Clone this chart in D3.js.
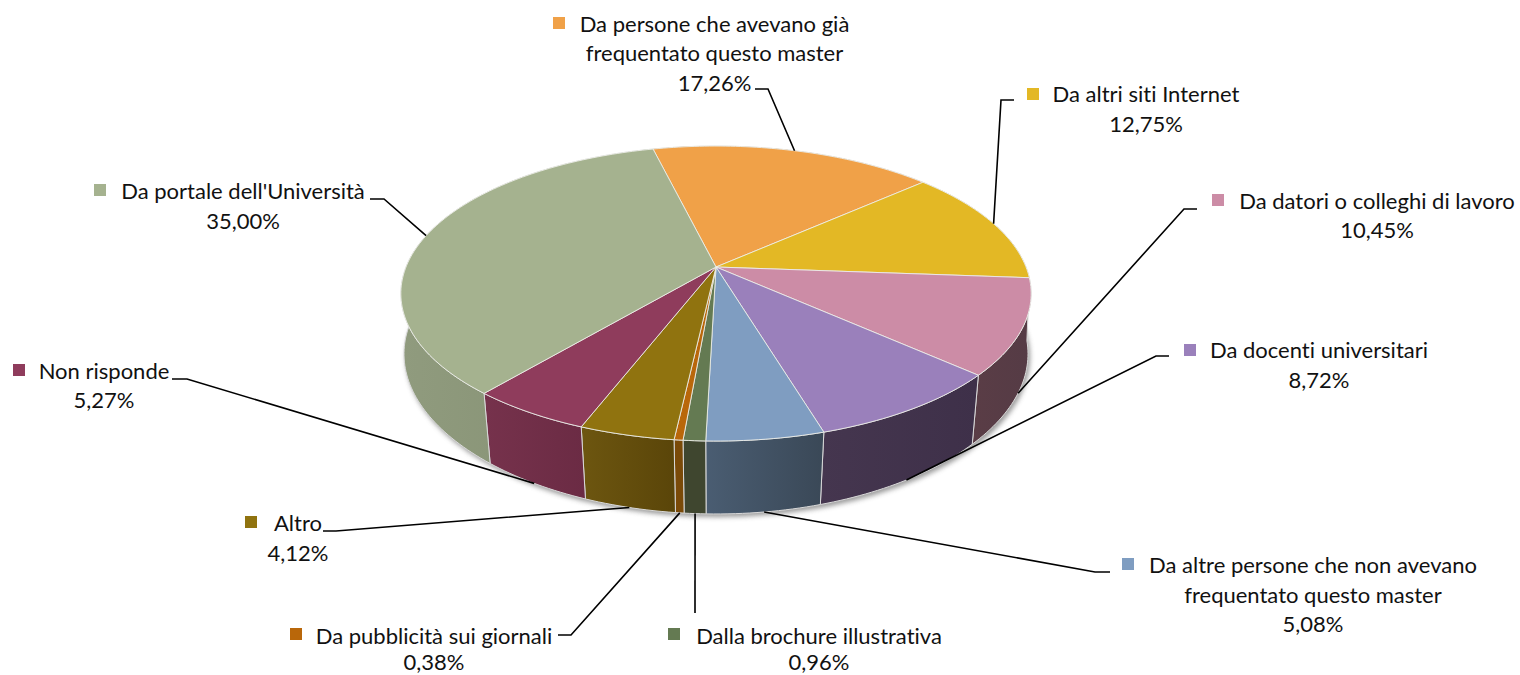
<!DOCTYPE html>
<html><head><meta charset="utf-8">
<script src="https://cdn.jsdelivr.net/npm/d3@7/dist/d3.min.js"></script>
<style>html,body{margin:0;padding:0;background:#fff}svg{display:block}text{font-family:Lato,"Open Sans",sans-serif;font-size:22px;fill:#111;font-variant-ligatures:none}</style>
</head><body><svg id="c" width="1520" height="675"></svg>
<script>
// DATA
const categories = ["Da persone che avevano già frequentato questo master","Da altri siti Internet","Da datori o colleghi di lavoro","Da docenti universitari","Da altre persone che non avevano frequentato questo master","Dalla brochure illustrativa","Da pubblicità sui giornali","Altro","Non risponde","Da portale dell'Università"];
const values = [17.26,12.75,10.45,8.72,5.08,0.96,0.38,4.12,5.27,35.00];
const labelLines = [
 ["Da persone che avevano già","frequentato questo master"],["Da altri siti Internet"],["Da datori o colleghi di lavoro"],["Da docenti universitari"],
 ["Da altre persone che non avevano","frequentato questo master"],["Dalla brochure illustrativa"],["Da pubblicità sui giornali"],["Altro"],["Non risponde"],["Da portale dell'Università"]];
// STYLE
const topColors = ["#f0a148","#e3b825","#cc8ca6","#9a80bb","#7f9dc1","#647a52","#b9670a","#90730f","#8f3c5c","#a5b28f"];
const wallColors = [["#7a5024","#7a5024"],["#725c12","#725c12"],["#553b45","#5a3d46"],["#3e3049","#45364f"],["#3a4857","#4a5d72"],["#3f462f","#3f462f"],["#7a4a08","#7a4a08"],["#5a4509","#6d5610"],["#6b2b44","#76324c"],["#828e70","#909b7e"]];
// LAYOUT: marker left/top, text centre x, baselines, leader elbow and end, anchor on bottom rim or top rim
const layout = [
 {cx:714.5,mx:553,my:17,elbow:[768,89],end:[755,89],bottom:false,baselines:[32,61,91]},
 {cx:1146,mx:1027,my:88,elbow:[1001,100],end:[1014,100],bottom:false,baselines:[102,132]},
 {cx:1377,mx:1212,my:194,elbow:[1184,209],end:[1197,209],bottom:true,baselines:[209,238]},
 {cx:1319,mx:1184,my:344,elbow:[1156,356],end:[1169,356],bottom:true,baselines:[358,388]},
 {cx:1313,mx:1122,my:558,elbow:[1095,572],end:[1110,572],bottom:true,baselines:[573,603,632]},
 {cx:819,mx:668,my:628,elbow:null,end:[695,613],bottom:true,baselines:[644,670]},
 {cx:434,mx:290,my:628,elbow:[571,635],end:[558,635],bottom:true,baselines:[644,670]},
 {cx:298,mx:245,my:516,elbow:[336,531],end:[323,531],bottom:true,baselines:[531,561]},
 {cx:104,mx:13,my:364,elbow:[187,379],end:[172,379],bottom:true,baselines:[379,408]},
 {cx:243,mx:94,my:184,elbow:[384,199],end:[370,199],bottom:false,baselines:[199,229]}
];
const fmt = v => v.toFixed(2).replace(".",",")+"%";

// perspective projection of the unit disc
const CX=716, CY=267, R=310, A=142.7, P=0.18;
const project = a => { const x=Math.sin(a), y=-Math.cos(a), w=1-P*y; return [CX+R*x/w, CY+A*y/w]; };
const projectBottom = a => { const [sx,sy]=project(a), dy=sy-CY; return [CX+(sx-CX)*(0.994-0.00016*dy), CY+dy*1.06+62.5]; };

const start = -13.8*Math.PI/180;
const pie = d3.pie().sort(null).startAngle(start).endAngle(start+2*Math.PI);
const arcs = pie(values);
const samples = (a0,a1) => { const n=Math.max(2,Math.ceil((a1-a0)/0.02)); return d3.range(n+1).map(i=>a0+(a1-a0)*i/n); };
const line = d3.line();

const svg = d3.select("#c"), defs = svg.append("defs");
defs.append("filter").attr("id","sh").attr("x","-10%").attr("y","-10%").attr("width","120%").attr("height","130%")
  .append("feGaussianBlur").attr("stdDeviation",2.5);

// soft shadow below the wall
const full = samples(0,2*Math.PI);
svg.append("path").attr("d",line(full.map(projectBottom))+"Z").attr("fill","#777").attr("opacity",.75)
  .attr("transform","translate(2,3)").attr("filter","url(#sh)");

// walls
arcs.forEach((d,i)=>{
  const s=samples(d.startAngle,d.endAngle);
  const pts=s.map(project).concat(s.slice().reverse().map(projectBottom));
  const xs=pts.map(p=>p[0]);
  const gid="w"+i;
  const g=defs.append("linearGradient").attr("id",gid).attr("gradientUnits","userSpaceOnUse")
    .attr("x1",d3.max(xs)).attr("x2",d3.min(xs)).attr("y1",0).attr("y2",0);
  g.append("stop").attr("offset",0).attr("stop-color",wallColors[i][0]);
  g.append("stop").attr("offset",1).attr("stop-color",wallColors[i][1]);
  svg.append("path").attr("d",line(pts)+"Z").attr("fill",`url(#${gid})`)
    .attr("stroke","#d9d9d9").attr("stroke-width",1).attr("stroke-linejoin","round");
});
// top faces
arcs.forEach((d,i)=>{
  const pts=[[CX,CY]].concat(samples(d.startAngle,d.endAngle).map(project));
  svg.append("path").attr("d",line(pts)+"Z").attr("fill",topColors[i])
    .attr("stroke","#eef0ea").attr("stroke-width",1).attr("stroke-opacity",.85).attr("stroke-linejoin","round");
});
// leaders
arcs.forEach((d,i)=>{
  const L=layout[i], m=(d.startAngle+d.endAngle)/2;
  const anchor=(L.bottom?projectBottom:project)(m);
  const pts=L.elbow?[anchor,L.elbow,L.end]:[anchor,L.end];
  svg.append("path").attr("d",line(pts)).attr("fill","none").attr("stroke","#000").attr("stroke-width",1.6);
});
// labels
categories.forEach((c,i)=>{
  const L=layout[i];
  svg.append("rect").attr("x",L.mx).attr("y",L.my).attr("width",12).attr("height",12).attr("fill",topColors[i]);
  const t=svg.append("text").attr("text-anchor","middle");
  labelLines[i].concat([fmt(values[i])]).forEach((s,j)=>{
    t.append("tspan").attr("x",L.cx).attr("y",L.baselines[j]).text(s);
  });
});
</script></body></html>
